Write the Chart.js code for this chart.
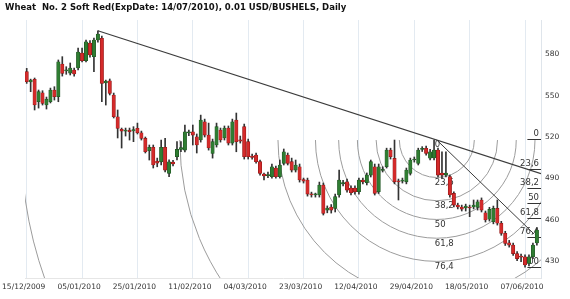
<!DOCTYPE html>
<html>
<head>
<meta charset="utf-8">
<script src="https://cdn.jsdelivr.net/npm/chart.js@4.4.1/dist/chart.umd.min.js"></script>
<style>
  html, body { margin: 0; padding: 0; background: #fff; }
  #wrap { width: 570px; height: 299px; }
</style>
</head>
<body>
<div id="wrap"><canvas id="chart" width="570" height="299"></canvas></div>
<script>
// Título del gráfico
const chartTitle = "Wheat  No. 2 Soft Red(ExpDate: 14/07/2010), 0.01 USD/BUSHELS, Daily";

// Velas diarias (índice de barra = día de negociación)
const openP = [567.4,559.9,561.9,545.6,552.1,543.2,545.6,554.1,549.2,573.0,568.0,566.4,568.6,570.1,580.9,575.3,588.2,578.3,590.4,591.6,
  559.2,560.8,550.5,534.7,525.6,524.3,525.0,524.4,526.3,523.1,519.0,510.0,512.5,502.5,502.0,512.5,493.6,501.8,505.7,511.0,
  510.5,523.0,523.8,520.2,517.8,531.1,521.4,508.1,514.2,525.1,519.3,526.5,515.6,532.3,518.0,527.5,516.6,506.2,506.9,502.1,
  493.1,492.0,491.2,497.5,491.2,500.9,506.9,502.1,496.0,498.4,489.2,488.8,478.6,478.0,477.9,485.2,467.0,469.2,468.2,477.9,
  486.0,487.5,483.0,483.0,480.3,488.8,486.9,492.4,498.4,480.3,495.7,498.4,510.5,504.5,488.0,488.0,487.5,493.6,503.3,500.9,
  511.0,511.8,504.6,504.8,510.5,493.9,492.4,491.2,479.1,470.6,469.2,468.5,469.2,469.2,469.0,474.3,465.0,460.3,458.5,468.2,
  457.4,450.1,443.3,441.6,435.4,433.6,433.1,428.2,433.1,443.1];
const highP = [569.8,562.0,562.8,554.1,553.6,549.0,555.5,556.5,575.9,578.3,571.0,573.7,570.1,584.6,584.6,590.4,589.9,591.8,597.1,593.3,
  561.3,562.1,551.9,539.6,526.5,526.5,526.5,527.5,530.1,524.3,520.0,514.2,514.2,504.7,517.8,519.0,503.5,503.0,516.6,516.6,
  528.7,525.0,528.7,522.2,535.9,533.0,530.1,518.5,530.1,526.5,528.0,528.0,533.0,537.4,520.7,529.4,518.5,507.6,508.4,503.3,
  493.9,494.5,500.4,498.9,503.3,511.3,508.4,504.7,503.3,500.4,490.2,490.2,480.0,479.3,487.3,486.6,470.0,471.0,478.6,496.0,
  488.5,489.5,484.5,484.5,490.2,490.2,493.9,503.3,500.4,500.4,498.4,511.9,511.9,517.8,489.5,490.2,497.5,504.7,505.5,511.9,
  513.0,513.5,511.0,517.8,511.9,509.3,509.3,492.4,480.3,472.0,470.6,471.3,470.6,474.3,474.3,475.8,466.3,469.0,469.9,474.3,
  458.8,451.6,445.0,443.1,436.9,435.0,434.5,434.5,443.1,453.9];
const lowP = [558.9,552.9,539.6,541.0,543.2,540.3,544.7,546.8,545.6,564.2,565.5,565.0,564.2,568.6,574.4,574.4,578.0,567.4,588.9,545.6,
  543.2,550.5,533.8,519.3,512.0,520.7,517.8,516.6,522.2,517.8,508.4,503.3,497.5,498.4,499.7,494.6,491.2,499.0,503.3,509.3,
  509.1,521.0,514.2,508.4,516.3,520.0,510.5,504.7,512.7,516.3,517.8,514.2,514.2,509.3,515.6,504.0,504.0,504.0,501.1,492.4,
  488.8,490.5,490.2,490.2,490.2,499.7,499.7,494.6,494.6,487.3,486.6,477.1,476.4,476.4,476.4,463.4,465.0,464.8,465.6,476.4,
  484.5,480.0,478.0,478.6,478.6,486.0,485.2,491.0,477.9,479.0,494.6,497.5,504.0,486.0,474.3,486.6,486.0,492.4,501.8,499.7,
  509.5,506.9,503.3,503.3,491.0,490.2,491.0,476.4,469.2,467.8,466.3,466.3,462.2,467.8,467.0,465.6,458.3,459.0,457.0,456.1,
  448.7,441.3,440.1,434.0,430.3,429.5,425.6,426.5,431.8,441.6];
const closeP = [560.1,561.3,543.2,552.9,544.4,547.5,554.1,549.2,574.6,566.2,568.8,570.1,565.7,581.7,575.3,589.1,579.5,590.4,594.7,558.9,
  560.6,551.7,534.7,526.3,524.3,525.0,523.8,525.4,523.1,519.0,509.3,512.5,499.7,501.1,512.5,496.0,502.0,500.4,511.0,512.4,
  523.8,523.8,521.4,514.2,532.3,521.4,512.0,516.6,527.5,517.8,526.5,515.6,531.1,516.6,517.0,505.7,505.7,505.1,502.1,493.6,
  491.7,492.8,498.4,491.2,499.7,509.3,500.9,496.0,499.7,488.8,488.0,478.6,478.0,478.6,485.2,464.6,468.5,467.0,476.7,488.8,
  487.0,481.5,479.6,480.3,488.8,487.5,492.4,502.1,479.1,498.4,496.6,510.5,505.7,487.5,487.5,488.8,496.0,503.3,504.0,510.5,
  511.7,508.1,509.3,510.5,492.4,492.4,493.9,477.9,470.6,469.2,467.7,469.9,468.5,470.6,473.0,467.0,459.8,467.5,468.2,457.4,
  450.1,442.8,441.6,435.4,431.8,432.9,427.1,433.1,441.6,452.5];

// Etiquetas del eje X (una cada 14 barras) y del eje de precios
const tickDates = ["15/12/2009","05/01/2010","25/01/2010","11/02/2010","04/03/2010",
  "23/03/2010","12/04/2010","29/04/2010","18/05/2010","07/06/2010"];
const tickStep = 14;
const priceTicks = [430, 460, 490, 520, 550, 580];

// Líneas dibujadas sobre el gráfico (barra, precio)
const trendLine = [{x: 18, y: 597.1}, {x: 130.04, y: 493.4}];
const fanLine = [{x: 103.7, y: 517.8}, {x: 128.3, y: 449.6}];

// Fibonacci: punto alto, punto bajo, niveles
const fibHigh = {x: 103.7, y: 517.8};
const fibLow = {x: 127.8, y: 425.6};
const arcLevels = [0, 23.6, 38.2, 50, 61.8, 76.4, 100, 161.8, 261.8];
const retrLevels = [0, 23.6, 38.2, 50, 61.8, 76.4, 100];
const retrTop = 518.5, retrBottom = 425.6, retrFromBar = 126.6;

const UP = "#2f7d32", UP_EDGE = "#1d4f20";
const DOWN = "#d42a2a", DOWN_EDGE = "#8a1616";

function levelText(l) {
    return String(l).replace(".", ",");
}

const wicks = highP.map((h, i) => ({x: i, y: [lowP[i], h]}));
const bodies = openP.map((o, i) => ({x: i, y: [o, closeP[i]]}));
const isUp = openP.map((o, i) => closeP[i] >= o);

const fibPlugin = {
    id: "fib",
    beforeDatasetsDraw(chart) {
        const {ctx, chartArea: a, scales: {x, y}} = chart;
        ctx.save();
        ctx.beginPath();
        ctx.rect(a.left, a.top, a.right - a.left, a.bottom - a.top);
        ctx.clip();

        const cx = x.getPixelForValue(fibHigh.x), cy = y.getPixelForValue(fibHigh.y);
        const ex = x.getPixelForValue(fibLow.x), ey = y.getPixelForValue(fibLow.y);
        const R = Math.hypot(ex - cx, ey - cy);

        // arcos
        ctx.strokeStyle = "#9c9c9c";
        ctx.lineWidth = 1;
        arcLevels.forEach(l => {
            if (l === 0) return;
            ctx.beginPath();
            ctx.arc(cx, cy, R * l / 100, 0, Math.PI);
            ctx.stroke();
        });

        ctx.fillStyle = "#333";
        ctx.font = '8.5px "DejaVu Sans"';
        ctx.textAlign = "left";
        ctx.textBaseline = "top";
        arcLevels.forEach(l => {
            ctx.fillText(levelText(l), cx - 2, cy + R * l / 100 + 1);
        });

        // retrocesos a la derecha
        const x0 = x.getPixelForValue(retrFromBar);
        ctx.strokeStyle = "#333";
        ctx.textAlign = "right";
        ctx.textBaseline = "bottom";
        retrLevels.forEach(l => {
            const py = Math.round(y.getPixelForValue(retrTop - (retrTop - retrBottom) * l / 100)) + 0.5;
            ctx.beginPath();
            ctx.moveTo(x0, py);
            ctx.lineTo(a.right, py);
            ctx.stroke();
            ctx.fillText(levelText(l), a.right - 2, py - 1);
        });
        ctx.restore();
    },
    afterDraw(chart) {
        const ctx = chart.ctx;
        ctx.save();
        ctx.fillStyle = "#111";
        ctx.font = 'bold 8.5px "DejaVu Sans"';
        ctx.textAlign = "left";
        ctx.textBaseline = "middle";
        ctx.fillText(chartTitle, 5, 8);
        ctx.restore();
    }
};

new Chart(document.getElementById("chart"), {
    type: "bar",
    data: {
        datasets: [
            {type: "line", data: trendLine, borderColor: "#3c3c3c", borderWidth: 1.2, pointRadius: 0, order: 3},
            {type: "line", data: fanLine, borderColor: "#3c3c3c", borderWidth: 1, pointRadius: 0, order: 3},
            {data: wicks, backgroundColor: "#333", barThickness: 1, grouped: false, order: 2},
            {
                data: bodies,
                backgroundColor: isUp.map(u => u ? UP : DOWN),
                borderColor: isUp.map(u => u ? UP_EDGE : DOWN_EDGE),
                borderWidth: 0.6,
                borderSkipped: false,
                barThickness: 3.4,
                minBarLength: 1,
                grouped: false,
                order: 1
            }
        ]
    },
    options: {
        responsive: false,
        animation: false,
        devicePixelRatio: 1,
        layout: {padding: {left: 25, top: 20, right: 0, bottom: 0}},
        plugins: {legend: {display: false}, tooltip: {enabled: false}},
        scales: {
            x: {
                type: "linear",
                min: -0.43,
                max: 130.04,
                offset: false,
                grid: {color: "#e3eaf1", drawTicks: false, offset: false},
                border: {color: "#e6e6e6"},
                afterFit: s => { s.height = 21; },
                afterBuildTicks: s => { s.ticks = tickDates.map((d, i) => ({value: i * tickStep})); },
                ticks: {
                    callback: v => tickDates[Math.round(v / tickStep)],
                    font: {family: "DejaVu Sans", size: 7.5},
                    color: "#333",
                    padding: 5,
                    labelOffset: -3,
                    maxRotation: 0,
                    autoSkip: false
                }
            },
            y: {
                position: "right",
                min: 417.7,
                max: 604.9,
                grid: {display: false, drawTicks: false},
                border: {display: true, color: "#dfe5eb"},
                afterFit: s => { s.width = 29; },
                afterBuildTicks: s => { s.ticks = priceTicks.map(v => ({value: v})); },
                ticks: {
                    font: {family: "DejaVu Sans", size: 7.5},
                    color: "#333",
                    padding: 4
                }
            }
        }
    },
    plugins: [fibPlugin]
});
</script>
</body>
</html>
